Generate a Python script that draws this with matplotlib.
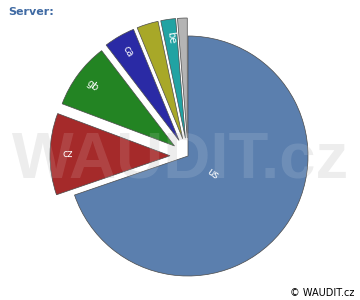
import numpy as np
import matplotlib.pyplot as plt

# server share (percent)
servers = ["us", "cz", "gb", "ca", "", "be", ""]
share = [69.8, 11.0, 8.9, 4.2, 2.9, 2.0, 1.3]
colors = ["#5b7fae", "#a52a2a", "#238423", "#2a2aa5", "#a8a828", "#21a3a3", "#b4b4b4"]
explode = [0, 0.15, 0.14, 0.15, 0.15, 0.15, 0.15]

fig = plt.figure(figsize=(3.6, 3.0), dpi=100)

# pie centre at ~(188,156) px, radius ~120 px
ax = fig.add_axes([58 / 360, 14 / 300, 260 / 360, 260 / 300])
wedges, texts = ax.pie(share, labels=servers, colors=colors, explode=explode,
                       startangle=90, counterclock=False, rotatelabels=True,
                       labeldistance=0.85,
                       wedgeprops=dict(edgecolor="#4a4a4a", linewidth=0.5),
                       textprops=dict(color="white", fontsize=7))
for t in texts:
    t.set_ha("center")
    t.set_va("center")
# the "us" label sits close to the centre
w = wedges[0]
mid = np.deg2rad((w.theta1 + w.theta2) / 2)
texts[0].set_position((0.25 * np.cos(mid), 0.25 * np.sin(mid)))

ax.set_xlim(-1.0833, 1.0833)
ax.set_ylim(-1.0833, 1.0833)
ax.set_aspect("equal")
ax.axis("off")

# watermark: grey behind the pie, faint white over it
wm = dict(ha="center", va="center", fontsize=47, fontweight="bold",
          family="Liberation Sans")
fig.text(0.5, 0.465, "WAUDIT.cz", color="#ebebeb", zorder=-1, **wm)
fig.text(0.5, 0.465, "WAUDIT.cz", color="white", alpha=0.12, zorder=10, **wm)

fig.text(8 / 360, 1 - 12 / 300, "Server:", ha="left", va="center", fontsize=8,
         fontweight="bold", color="#3f6aa3")
fig.text(354 / 360, 1 - 293 / 300, "\u00a9 WAUDIT.cz", ha="right", va="center",
         fontsize=7, color="black")

fig.savefig("out.png", dpi=100)
